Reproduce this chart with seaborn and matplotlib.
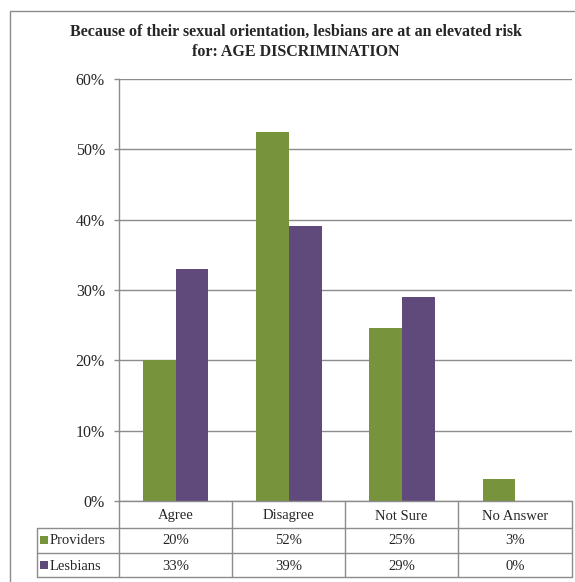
import matplotlib
matplotlib.use("Agg")
import matplotlib.pyplot as plt
import seaborn as sns
import pandas as pd
from matplotlib.patches import Rectangle
from matplotlib.lines import Line2D

categories = ["Agree", "Disagree", "Not Sure", "No Answer"]
series = ["Providers", "Lesbians"]
providers = [20.0, 52.4, 24.6, 3.1]
lesbians = [33.0, 39.1, 29.0, 0.0]
providers_labels = ["20%", "52%", "25%", "3%"]
lesbians_labels = ["33%", "39%", "29%", "0%"]
yticks = [0, 10, 20, 30, 40, 50, 60]
title = "Because of their sexual orientation, lesbians are at an elevated risk\nfor: AGE DISCRIMINATION"

colors = ["#77933C", "#604A7B"]
grid_c = "#8C8C8C"

sns.set_theme(style="white")
plt.rcParams["font.family"] = ["Liberation Serif", "DejaVu Serif"]

df = pd.DataFrame({
    "category": categories * 2,
    "series": [series[0]] * 4 + [series[1]] * 4,
    "value": providers + lesbians,
})

W, H = 575, 582
fig = plt.figure(figsize=(W / 100, H / 100), dpi=100)

def fx(px):
    return px / W

def fy(py):
    return 1 - py / H

# outer frame
fig.patches.append(Rectangle((fx(10), fy(600)), fx(600) - fx(10), fy(11) - fy(600),
                             transform=fig.transFigure, fill=False,
                             edgecolor="#8C8C8C", lw=1.0))

ax = fig.add_axes([fx(119), fy(501), fx(572) - fx(119), fy(79) - fy(501)])
sns.barplot(data=df, x="category", y="value", hue="series", order=categories,
            hue_order=series, palette=colors, width=0.58, gap=0, ax=ax,
            saturation=1, legend=False, edgecolor="none")
ax.set_xlim(-0.5, 3.5)
ax.set_ylim(0, 60)
ax.set_yticks(yticks)
ax.set_yticklabels([f"{t}%" for t in yticks], fontsize=11.5)
ax.set_xticks([])
ax.set_xlabel("")
ax.set_ylabel("")
ax.yaxis.grid(True, color=grid_c, lw=1.0)
ax.set_axisbelow(True)
for s in ["top", "right", "bottom"]:
    ax.spines[s].set_visible(False)
ax.spines["left"].set_color(grid_c)
ax.spines["left"].set_linewidth(1.0)
ax.tick_params(axis="y", length=3.6, width=1.0, color=grid_c, pad=6.5, left=True)

fig.text(fx(296), fy(42), title, ha="center", va="center", fontsize=11.5,
         fontweight="bold", linespacing=1.3)

# table
xs = [119, 232, 345, 458, 572]
rows_y = [501, 528, 553, 577]
lkw = dict(transform=fig.transFigure, color=grid_c, lw=1.0)
for y in rows_y:
    x0 = 119 if y == 501 else 37
    fig.add_artist(Line2D([fx(x0), fx(572)], [fy(y), fy(y)], **lkw))
for x in xs:
    fig.add_artist(Line2D([fx(x), fx(x)], [fy(501), fy(577)], **lkw))
fig.add_artist(Line2D([fx(37), fx(37)], [fy(528), fy(577)], **lkw))

for i, cat in enumerate(categories):
    cx = (xs[i] + xs[i + 1]) / 2
    fig.text(fx(cx), fy(516), cat, ha="center", va="center", fontsize=10.5)
    fig.text(fx(cx), fy(541), providers_labels[i], ha="center", va="center", fontsize=10.5)
    fig.text(fx(cx), fy(566), lesbians_labels[i], ha="center", va="center", fontsize=10.5)

for j, (name, col) in enumerate(zip(series, colors)):
    cy = 541 if j == 0 else 566
    fig.patches.append(Rectangle((fx(40), fy(cy + 3)), fx(48) - fx(40), fy(cy - 5) - fy(cy + 3),
                                 transform=fig.transFigure, facecolor=col, edgecolor="none"))
    fig.text(fx(50), fy(cy), name, ha="left", va="center", fontsize=10.5)

fig.savefig("out.png", dpi=100)
